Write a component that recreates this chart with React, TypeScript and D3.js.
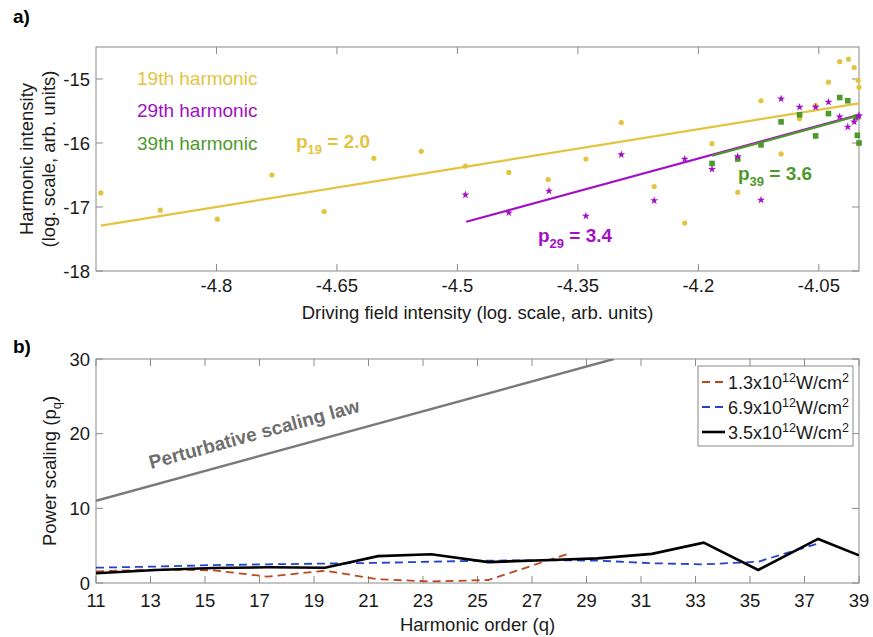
import React from 'react';
import * as d3 from 'd3';

// ---- panel a data (log driving intensity vs log harmonic intensity)
const h19X = [-4.944, -4.87, -4.799, -4.731, -4.666, -4.604, -4.545, -4.49, -4.436, -4.387, -4.34, -4.296, -4.255, -4.217, -4.183, -4.151, -4.122, -4.097, -4.074, -4.054, -4.038, -4.024, -4.013, -4.006, -4.001, -4.0];
const h19Y = [-16.78, -17.05, -17.19, -16.5, -17.07, -16.24, -16.13, -16.36, -16.46, -16.57, -16.25, -15.68, -16.68, -17.25, -16.01, -16.77, -15.34, -16.17, -15.62, -15.41, -15.05, -14.73, -14.69, -14.82, -15.02, -15.13];
const h29X = [-4.49, -4.436, -4.386, -4.34, -4.296, -4.255, -4.217, -4.183, -4.151, -4.122, -4.097, -4.074, -4.054, -4.038, -4.024, -4.014, -4.006, -4.001, -4.0];
const h29Y = [-16.81, -17.09, -16.75, -17.14, -16.18, -16.9, -16.25, -16.41, -16.21, -16.89, -15.31, -15.44, -15.44, -15.36, -15.59, -15.75, -15.67, -15.59, -15.57];
const h39X = [-4.183, -4.151, -4.122, -4.097, -4.074, -4.054, -4.038, -4.024, -4.014, -4.004, -4.002, -4.0];
const h39Y = [-16.32, -16.25, -16.03, -15.67, -15.56, -15.89, -15.54, -15.29, -15.34, -15.6, -15.88, -16.0];
// fitted lines (end points)
const fit19 = [[-4.944, -17.29], [-4.0, -15.38]];
const fit29 = [[-4.489, -17.23], [-4.0, -15.56]];
const fit39 = [[-4.183, -16.2], [-4.0, -15.57]];

const aXTicks = [-4.8, -4.65, -4.5, -4.35, -4.2, -4.05];
const aXTickLabels = ['-4.8', '-4.65', '-4.5', '-4.35', '-4.2', '-4.05'];
const aYTicks = [-18, -17, -16, -15];
const aYTickLabels = ['-18', '-17', '-16', '-15'];

// ---- panel b data (power scaling vs harmonic order)
const lowQ = [11, 13.2, 15.3, 17.3, 19.4, 21.35, 23.3, 25.4, 28.4];
const lowP = [1.55, 1.8, 1.7, 0.85, 1.65, 0.5, 0.2, 0.4, 4.0];
const highQ = [11, 13.2, 15.3, 17.3, 19.4, 21.35, 23.3, 25.4, 27.4, 29.4, 31.4, 33.3, 35.3, 37.5];
const highP = [2.05, 2.2, 2.4, 2.5, 2.6, 2.7, 2.85, 3.0, 3.05, 3.0, 2.65, 2.5, 2.85, 5.3];
const midQ = [11, 13.2, 15.3, 17.3, 19.4, 21.35, 23.3, 25.4, 27.4, 29.4, 31.4, 33.3, 35.3, 37.5, 39];
const midP = [1.3, 1.75, 2.0, 2.1, 2.05, 3.6, 3.85, 2.8, 3.05, 3.3, 3.9, 5.4, 1.75, 5.9, 3.7];
const pertQ = [11, 30];
const pertP = [11, 30];

const bXTicks = [11, 13, 15, 17, 19, 21, 23, 25, 27, 29, 31, 33, 35, 37, 39];
const bYTicks = [0, 10, 20, 30];

const FONT = '"Liberation Sans", Arial, Helvetica, sans-serif';
const YELLOW = '#e4c43e';
const MAGENTA = '#a30fc4';
const GREEN = '#4d9a2b';
const RED = '#c0461e';
const BLUE = '#2343cf';
const AXIS = '#8a8a8a';
const TXT = '#1a1a1a';
const FS = 18.5;

export default function App() {
  const ax = d3.scaleLinear().domain([-4.95, -4.0]).range([96, 859]);
  const ay = d3.scaleLinear().domain([-18, -14.5]).range([271, 47]);
  const bx = d3.scaleLinear().domain([11, 39]).range([96, 859]);
  const by = d3.scaleLinear().domain([0, 30]).range([583, 359]);

  const aLine = d3.line<number[]>().x(d => ax(d[0])).y(d => ay(d[1]));
  const bLine = d3.line<number[]>().x(d => bx(d[0])).y(d => by(d[1]));
  const star = d3.symbol().type(d3.symbolStar).size(20)();
  const zip = (a: number[], b: number[]) => a.map((v, i) => [v, b[i]]);

  const [ax0, ax1] = ax.range();
  const [ay0, ay1] = ay.range();
  const [bx0, bx1] = bx.range();
  const [by0, by1] = by.range();
  const tl = 7;

  const pertAngle = -Math.atan((by(0) - by(1)) / (bx(12) - bx(11))) * 180 / Math.PI;

  return (
    <svg width={873} height={637} style={{ position: 'absolute', left: 0, top: 0 }} fontFamily={FONT}>
      <rect width={873} height={637} fill="#fff" />
      {/* ---------- panel a ---------- */}
      <text x={13} y={23} fontSize={19} fontWeight="bold" fill="#000">a)</text>
      <rect x={ax0} y={ay1} width={ax1 - ax0} height={ay0 - ay1} fill="none" stroke={AXIS} />
      {aXTicks.map((t, i) => (
        <g key={'ax' + i}>
          <line x1={ax(t)} x2={ax(t)} y1={ay0} y2={ay0 - tl} stroke={AXIS} />
          <line x1={ax(t)} x2={ax(t)} y1={ay1} y2={ay1 + tl} stroke={AXIS} />
          <text x={ax(t)} y={292} textAnchor="middle" fontSize={FS} fill={TXT}>{aXTickLabels[i]}</text>
        </g>
      ))}
      {aYTicks.map((t, i) => (
        <g key={'ay' + i}>
          <line x1={ax0} x2={ax0 + tl} y1={ay(t)} y2={ay(t)} stroke={AXIS} />
          <line x1={ax1} x2={ax1 - tl} y1={ay(t)} y2={ay(t)} stroke={AXIS} />
          <text x={90} y={ay(t) + 6.5} textAnchor="end" fontSize={FS} fill={TXT}>{aYTickLabels[i]}</text>
        </g>
      ))}
      <text x={(ax0 + ax1) / 2} y={319} textAnchor="middle" fontSize={FS} fill={TXT}>Driving field intensity (log. scale, arb. units)</text>
      <text transform={`translate(33,${(ay0 + ay1) / 2}) rotate(-90)`} textAnchor="middle" fontSize={FS} fill={TXT}>Harmonic intensity</text>
      <text transform={`translate(55,${(ay0 + ay1) / 2}) rotate(-90)`} textAnchor="middle" fontSize={FS} fill={TXT}>(log. scale, arb. units)</text>

      <path d={aLine(fit19) || ''} stroke={YELLOW} strokeWidth={2.2} fill="none" />
      <path d={aLine(fit29) || ''} stroke={MAGENTA} strokeWidth={2.2} fill="none" />
      <path d={aLine(fit39) || ''} stroke={GREEN} strokeWidth={2.2} fill="none" />

      {zip(h19X, h19Y).map((d, i) => (
        <circle key={'y' + i} cx={ax(d[0])} cy={ay(d[1])} r={2.6} fill={YELLOW} />
      ))}
      {zip(h39X, h39Y).map((d, i) => (
        <rect key={'g' + i} x={ax(d[0]) - 2.8} y={ay(d[1]) - 2.8} width={5.6} height={5.6} fill={GREEN} />
      ))}
      {zip(h29X, h29Y).map((d, i) => (
        <path key={'m' + i} d={star || ''} transform={`translate(${ax(d[0])},${ay(d[1])})`} fill={MAGENTA} />
      ))}

      <text x={137} y={85} fontSize={19} fill={YELLOW}>19th harmonic</text>
      <text x={137} y={117} fontSize={19} fill={MAGENTA}>29th harmonic</text>
      <text x={137} y={150} fontSize={19} fill={GREEN}>39th harmonic</text>

      <text x={296} y={148} fontSize={19} fontWeight="bold" fill={YELLOW}>p<tspan fontSize={13} dy={6}>19</tspan><tspan dy={-6}> = 2.0</tspan></text>
      <text x={538} y={242} fontSize={19} fontWeight="bold" fill={MAGENTA}>p<tspan fontSize={13} dy={6}>29</tspan><tspan dy={-6}> = 3.4</tspan></text>
      <text x={738} y={180} fontSize={19} fontWeight="bold" fill={GREEN}>p<tspan fontSize={13} dy={6}>39</tspan><tspan dy={-6}> = 3.6</tspan></text>

      {/* ---------- panel b ---------- */}
      <text x={13} y={353} fontSize={19} fontWeight="bold" fill="#000">b)</text>
      <defs>
        <clipPath id="bclip"><rect x={bx0} y={by1} width={bx1 - bx0} height={by0 - by1} /></clipPath>
      </defs>
      <rect x={bx0} y={by1} width={bx1 - bx0} height={by0 - by1} fill="none" stroke={AXIS} />
      {bXTicks.map((t, i) => (
        <g key={'bx' + i}>
          <line x1={bx(t)} x2={bx(t)} y1={by0} y2={by0 - tl} stroke={AXIS} />
          <line x1={bx(t)} x2={bx(t)} y1={by1} y2={by1 + tl} stroke={AXIS} />
          <text x={bx(t)} y={607} textAnchor="middle" fontSize={FS} fill={TXT}>{t}</text>
        </g>
      ))}
      {bYTicks.map((t, i) => (
        <g key={'by' + i}>
          <line x1={bx0} x2={bx0 + tl} y1={by(t)} y2={by(t)} stroke={AXIS} />
          <line x1={bx1} x2={bx1 - tl} y1={by(t)} y2={by(t)} stroke={AXIS} />
          <text x={90} y={by(t) + 6.5} textAnchor="end" fontSize={FS} fill={TXT}>{t}</text>
        </g>
      ))}
      <text x={(bx0 + bx1) / 2} y={631} textAnchor="middle" fontSize={FS} fill={TXT}>Harmonic order (q)</text>
      <text transform={`translate(56,${(by0 + by1) / 2}) rotate(-90)`} textAnchor="middle" fontSize={FS} fill={TXT}>Power scaling (p<tspan fontSize={13} dy={5}>q</tspan><tspan dy={-5}>)</tspan></text>

      <g clipPath="url(#bclip)">
        <path d={bLine(zip(pertQ, pertP)) || ''} stroke="#7a7a7a" strokeWidth={2.4} fill="none" />
        <path d={bLine(zip(lowQ, lowP)) || ''} stroke={RED} strokeWidth={1.8} strokeDasharray="8,5" fill="none" />
        <path d={bLine(zip(highQ, highP)) || ''} stroke={BLUE} strokeWidth={1.8} strokeDasharray="8,5" fill="none" />
        <path d={bLine(zip(midQ, midP)) || ''} stroke="#000" strokeWidth={2.6} fill="none" />
      </g>
      <text transform={`translate(151,469) rotate(${pertAngle})`} fontSize={19} fontWeight="bold" fill="#6e6e6e">Perturbative scaling law</text>

      {/* legend */}
      <rect x={698} y={366} width={155} height={80} fill="#fff" stroke={AXIS} />
      {[
        { label: '1.3', color: RED, dash: '8,5', w: 1.8 },
        { label: '6.9', color: BLUE, dash: '8,5', w: 1.8 },
        { label: '3.5', color: '#000', dash: '', w: 2.6 },
      ].map((s, i) => (
        <g key={'lg' + i}>
          <line x1={702} x2={725} y1={382 + i * 25} y2={382 + i * 25} stroke={s.color} strokeWidth={s.w} strokeDasharray={s.dash || undefined} />
          <text x={728} y={389 + i * 25} fontSize={18} fill={TXT}>{s.label}x10<tspan fontSize={12.5} dy={-7}>12</tspan><tspan dy={7}>W/cm</tspan><tspan fontSize={12.5} dy={-7}>2</tspan></text>
        </g>
      ))}
    </svg>
  );
}
